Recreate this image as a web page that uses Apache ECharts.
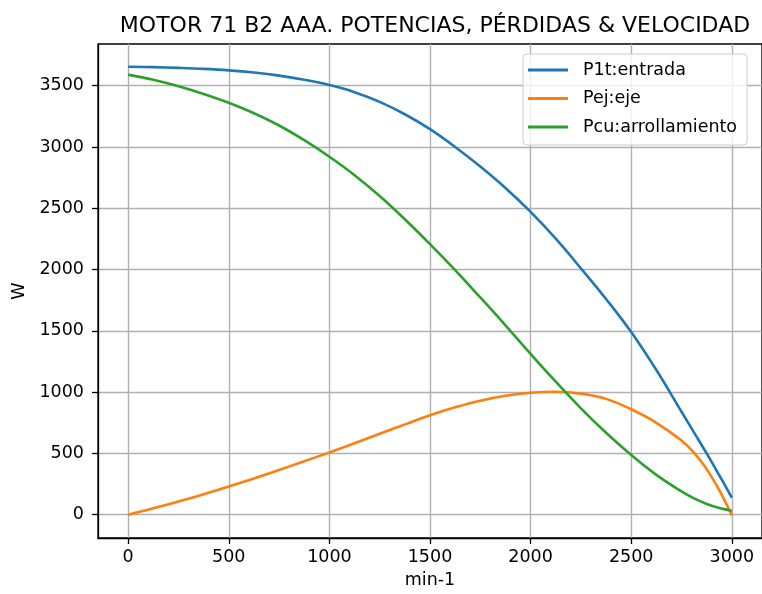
<!DOCTYPE html>
<html>
<head>
<meta charset="utf-8">
<script src="https://cdn.jsdelivr.net/npm/echarts@6/dist/echarts.min.js"></script>
<style>
  html, body { margin: 0; padding: 0; background: #ffffff; }
  #chart { width: 762px; height: 594px; }
</style>
</head>
<body>
<div id="chart"></div>
<script>
// Speed (min-1) and power curves (W); finer steps near synchronous speed
const rpm = [0, 125, 250, 375, 500, 625, 750, 875, 1000, 1125, 1250, 1375, 1500,
             1625, 1750, 1875, 2000, 2125, 2250, 2375, 2500, 2625, 2750, 2812.5, 2875, 2937.5, 3000];
const p1tEntrada = [3655, 3651, 3645, 3637, 3625, 3607, 3582, 3548, 3505, 3447, 3368, 3267, 3145,
                    3000, 2840, 2665, 2470, 2252, 2010, 1760, 1490, 1180, 840, 670, 500, 322, 140];
const pejEje = [0, 52, 108, 167, 230, 296, 365, 436, 508, 583, 660, 737, 812,
                876, 930, 970, 995, 1003, 988, 945, 860, 750, 605, 505, 372, 200, -5];
const pcuArrollamiento = [3590, 3548, 3495, 3432, 3360, 3275, 3175, 3055, 2920, 2770, 2600, 2410, 2207,
                          1995, 1772, 1545, 1312, 1085, 868, 668, 487, 325, 190, 133, 88, 55, 32];

const seriesNames = ['P1t:entrada', 'Pej:eje', 'Pcu:arrollamiento'];
const seriesColors = ['#1f77b4', '#ff7f0e', '#2ca02c'];

const xTicks = [0, 500, 1000, 1500, 2000, 2500, 3000];
const yTicks = [0, 500, 1000, 1500, 2000, 2500, 3000, 3500];

const FONT = 'DejaVu Sans';

function pairs(xs, ys) {
  return xs.map((x, i) => [x, ys[i]]);
}

const chart = echarts.init(document.getElementById('chart'), null, { renderer: 'canvas' });

const lineSeries = [p1tEntrada, pejEje, pcuArrollamiento].map((vals, i) => ({
  name: seriesNames[i],
  type: 'line',
  data: pairs(rpm, vals),
  smooth: 0.4,
  symbol: 'none',
  lineStyle: { color: seriesColors[i], width: 2.6 },
  itemStyle: { color: seriesColors[i] },
  z: 3 + i
}));

const plainNumber = (v) => String(v);

chart.setOption({
  animation: false,
  backgroundColor: '#ffffff',
  title: {
    text: 'MOTOR 71 B2 AAA. POTENCIAS, PÉRDIDAS & VELOCIDAD',
    left: 430,
    top: 10,
    textAlign: 'center',
    textStyle: { fontFamily: FONT, fontSize: 22, fontWeight: 'normal', color: '#000' }
  },
  legend: {
    orient: 'vertical',
    left: 523,
    top: 54,
    padding: [6, 10, 8, 5],
    itemGap: 8.5,
    itemWidth: 40,
    itemHeight: 3,
    icon: 'rect',
    backgroundColor: 'rgba(255,255,255,0.8)',
    borderColor: '#cccccc',
    borderWidth: 1,
    borderRadius: 4,
    textStyle: { fontFamily: FONT, fontSize: 17.5, color: '#000', lineHeight: 20, padding: [0, 0, 0, 10] },
    data: seriesNames
  },
  grid: {
    left: 98,
    right: 0,
    top: 44,
    bottom: 54,
    show: true,
    borderColor: '#000',
    borderWidth: 1.3,
    containLabel: false
  },
  xAxis: {
    type: 'value',
    min: -150,
    max: 3150,
    name: 'min-1',
    nameLocation: 'middle',
    nameGap: 33,
    nameTextStyle: { fontFamily: FONT, fontSize: 17.5, color: '#000' },
    axisLine: { show: true, onZero: false, lineStyle: { color: '#000', width: 1.3 } },
    axisTick: { show: true, length: 6, customValues: xTicks, lineStyle: { color: '#000', width: 1.3 } },
    axisLabel: { customValues: xTicks, formatter: plainNumber, margin: 10, fontFamily: FONT, fontSize: 17.5, color: '#000' },
    splitLine: { show: true, lineStyle: { color: '#b0b0b0', width: 1.4 } }
  },
  yAxis: {
    type: 'value',
    min: -190,
    max: 3840,
    name: 'W',
    nameLocation: 'middle',
    nameGap: 68,
    nameTextStyle: { fontFamily: FONT, fontSize: 17.5, color: '#000' },
    axisLine: { show: true, onZero: false, lineStyle: { color: '#000', width: 1.3 } },
    axisTick: { show: true, length: 6, customValues: yTicks, lineStyle: { color: '#000', width: 1.3 } },
    axisLabel: { customValues: yTicks, formatter: plainNumber, margin: 14, fontFamily: FONT, fontSize: 17.5, color: '#000' },
    splitLine: { show: true, lineStyle: { color: '#b0b0b0', width: 1.4 } }
  },
  series: lineSeries
});
</script>
</body>
</html>
